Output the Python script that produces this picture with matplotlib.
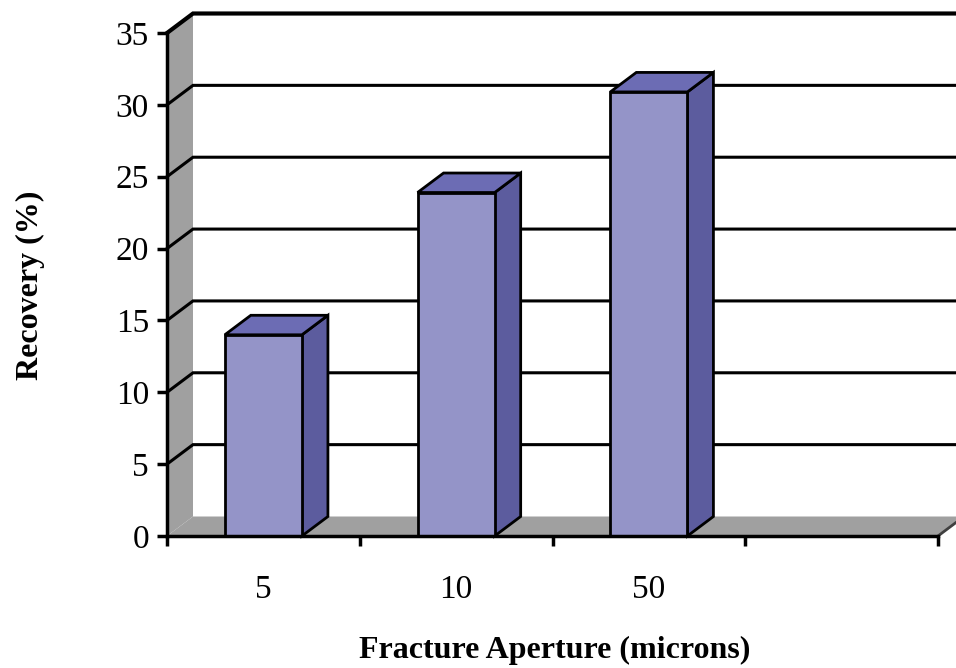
import matplotlib
matplotlib.use('Agg')
import matplotlib.pyplot as plt
from matplotlib.patches import Polygon

# data
apertures = ['5', '10', '50', '']
recovery = [14.0, 23.9, 30.9]
yticks = [0, 5, 10, 15, 20, 25, 30, 35]

# colours for the 3d boxes
c_front = '#9494c8'
c_top = '#6c6cb4'
c_side = '#5c5c9e'
c_wall = '#a0a0a0'

W, H = 956, 668
fig = plt.figure(figsize=(W / 100, H / 100), dpi=100)
x0, x1, y0, y1 = 167, 938, 536, 33
ax = fig.add_axes([x0 / W, 1 - y0 / H, (x1 - x0) / W, (y0 - y1) / H])
ncat = len(apertures)
ymax = 35
ax.set_xlim(0, ncat)
ax.set_ylim(0, ymax)

# depth offset of back wall, in data units
dx = 26 / ((x1 - x0) / ncat)
dy = 19.5 / ((y0 - y1) / ymax)

def poly(pts, fc, ec='none', lw=0, z=1):
    ax.add_patch(Polygon(pts, closed=True, fc=fc, ec=ec, lw=lw, zorder=z,
                         clip_on=False, joinstyle='miter'))

# side wall and floor
poly([(0, 0), (dx, dy), (dx, ymax + dy), (0, ymax)], c_wall)
poly([(0, 0), (ncat, 0), (ncat + dx, dy), (dx, dy)], c_wall)
ax.plot([ncat, ncat + dx], [0, dy], color='#404040', lw=2, clip_on=False, zorder=2)

# gridlines running on the side wall and back wall
for v in yticks[1:]:
    lw = 3 if v == ymax else 2.2
    ax.plot([0, dx, ncat + dx], [v, v + dy, v + dy], color='black', lw=lw,
            clip_on=False, zorder=2, solid_joinstyle='miter')

# bars
bw = 0.4
for i, h in enumerate(recovery):
    l = i + 0.5 - bw / 2
    r = i + 0.5 + bw / 2
    poly([(r, 0), (r + dx, dy), (r + dx, h + dy), (r, h)], c_side, 'black', 2, 3)
    poly([(l, h), (r, h), (r + dx, h + dy), (l + dx, h + dy)], c_top, 'black', 2, 3)
    poly([(l, 0), (r, 0), (r, h), (l, h)], c_front, 'black', 2, 4)

# axes
for s in ['top', 'right']:
    ax.spines[s].set_visible(False)
for s in ['left', 'bottom']:
    ax.spines[s].set_linewidth(2.5)
    ax.spines[s].set_zorder(5)
ax.patch.set_alpha(0)

ax.set_yticks(yticks)
ax.set_yticklabels([str(v) for v in yticks])
ax.set_xticks(range(ncat + 1))
ax.set_xticklabels([''] * (ncat + 1))
ax.set_xticks([i + 0.5 for i in range(ncat)], minor=True)
ax.set_xticklabels(apertures, minor=True)
ax.tick_params(axis='y', direction='out', length=7, width=2.5, pad=6,
               labelsize=24, labelfontfamily='Liberation Serif')
ax.tick_params(axis='x', which='major', direction='out', length=7, width=2.5)
ax.tick_params(axis='x', which='minor', length=0, pad=28,
               labelsize=24, labelfontfamily='Liberation Serif')

fig.text(555 / W, 1 - 650 / H, 'Fracture Aperture (microns)', ha='center', va='center',
         fontsize=23, fontweight='bold', family='Liberation Serif')
fig.text(30 / W, 1 - 285 / H, 'Recovery (%)', ha='center', va='center', rotation=90,
         fontsize=23, fontweight='bold', family='Liberation Serif')

fig.savefig('out.png', dpi=100)
